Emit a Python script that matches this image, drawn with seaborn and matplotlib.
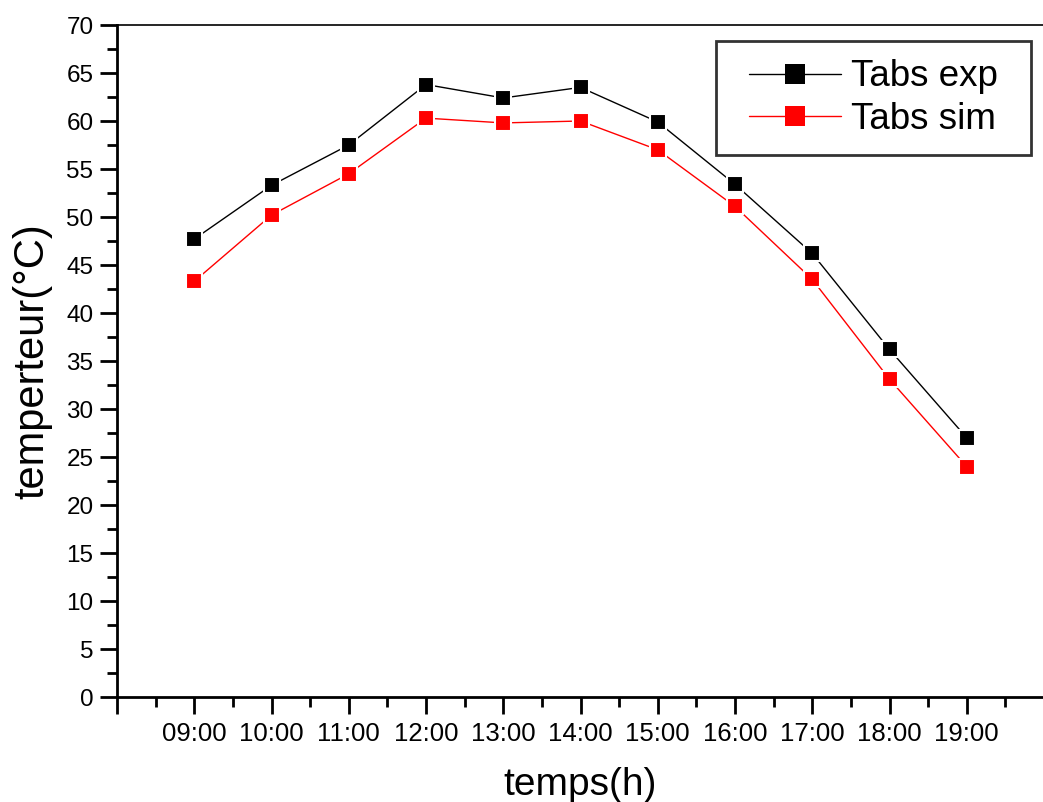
import matplotlib
matplotlib.use("Agg")
import matplotlib.pyplot as plt
import seaborn as sns
import pandas as pd
from matplotlib.ticker import MultipleLocator, FixedLocator, FixedFormatter
from matplotlib.lines import Line2D
from matplotlib.path import Path

hours = [9, 10, 11, 12, 13, 14, 15, 16, 17, 18, 19]
hour_labels = ["09:00", "10:00", "11:00", "12:00", "13:00", "14:00", "15:00", "16:00", "17:00", "18:00", "19:00"]
tabs_exp = [47.7, 53.3, 57.5, 63.8, 62.4, 63.5, 59.9, 53.4, 46.2, 36.2, 27.0]
tabs_sim = [43.3, 50.2, 54.5, 60.3, 59.8, 60.0, 57.0, 51.1, 43.5, 33.1, 24.0]

sns.set_theme(style="ticks")
plt.rcParams['font.family'] = ['Liberation Sans', 'DejaVu Sans']
plt.rcParams['text.color'] = 'black'
plt.rcParams['axes.labelcolor'] = 'black'

df = pd.DataFrame({
    "heure": hours * 2,
    "temp": tabs_exp + tabs_sim,
    "serie": ["Tabs exp"] * len(hours) + ["Tabs sim"] * len(hours),
})

W, H = 1043, 802
fig = plt.figure(figsize=(W / 100, H / 100), dpi=100)
ax = fig.add_axes([117 / W, (H - 697) / H, (1044 - 117) / W, 672 / H])

sns.lineplot(data=df, x="heure", y="temp", hue="serie", style="serie",
             palette={"Tabs exp": "black", "Tabs sim": "red"},
             markers={"Tabs exp": "s", "Tabs sim": "s"}, dashes=False,
             markersize=11.5, linewidth=1, markeredgewidth=1.5, markeredgecolor="white",
             ax=ax, legend=False)

ax.set_xlim(8, 20)
ax.set_ylim(0, 70)
ax.xaxis.set_major_locator(FixedLocator(list(range(8, 21))))
ax.xaxis.set_major_formatter(FixedFormatter([""] + hour_labels + ["", ""]))
ax.xaxis.set_minor_locator(MultipleLocator(0.5))
ax.yaxis.set_major_locator(MultipleLocator(5))
ax.yaxis.set_minor_locator(MultipleLocator(2.5))

ax.tick_params(axis="both", which="major", direction="out", length=12, width=2, colors="black", labelcolor="black")
ax.tick_params(axis="y", which="major", labelsize=17.5, pad=5)
ax.tick_params(axis="x", which="major", labelsize=18.5, pad=6)
ax.tick_params(axis="both", which="minor", direction="out", length=7, width=2, colors="black")
for s in ["left", "bottom"]:
    ax.spines[s].set_linewidth(2)
    ax.spines[s].set_color("black")
ax.spines["top"].set_linewidth(1.2)
ax.spines["top"].set_color("black")
ax.spines["right"].set_visible(False)

ax.set_xlabel("temps(h)", fontsize=28, labelpad=15)
ax.set_ylabel("temperteur(°C)", fontsize=30, labelpad=10)

HPAD = 0.4  # extra horizontal padding of legend frame, in font-size units


def wide_box(x0, y0, width, height, mutation_size):
    dx = HPAD * mutation_size
    verts = [(x0 - dx, y0), (x0 + width + dx, y0), (x0 + width + dx, y0 + height),
             (x0 - dx, y0 + height), (x0 - dx, y0)]
    codes = [Path.MOVETO, Path.LINETO, Path.LINETO, Path.LINETO, Path.CLOSEPOLY]
    return Path(verts, codes)


leg_fs = 26.5
dx_px = HPAD * leg_fs * 100 / 72
handles = [
    Line2D([], [], color="black", marker="s", markersize=14, linewidth=1, markeredgewidth=0),
    Line2D([], [], color="red", marker="s", markersize=14, linewidth=1, markeredgewidth=0),
]
leg = ax.legend(handles, ["Tabs exp", "Tabs sim"], loc="upper right",
                bbox_to_anchor=((1031 - dx_px - 117) / (1044 - 117), (697 - 41) / 672),
                fontsize=leg_fs, frameon=True, fancybox=False, edgecolor="black",
                handlelength=2.5, handletextpad=0.28, borderpad=0.5, labelspacing=0.2,
                borderaxespad=0)
leg.get_frame().set_linewidth(2)
leg.get_frame().set_boxstyle(wide_box)

fig.savefig("out.png", dpi=100, facecolor="white")
